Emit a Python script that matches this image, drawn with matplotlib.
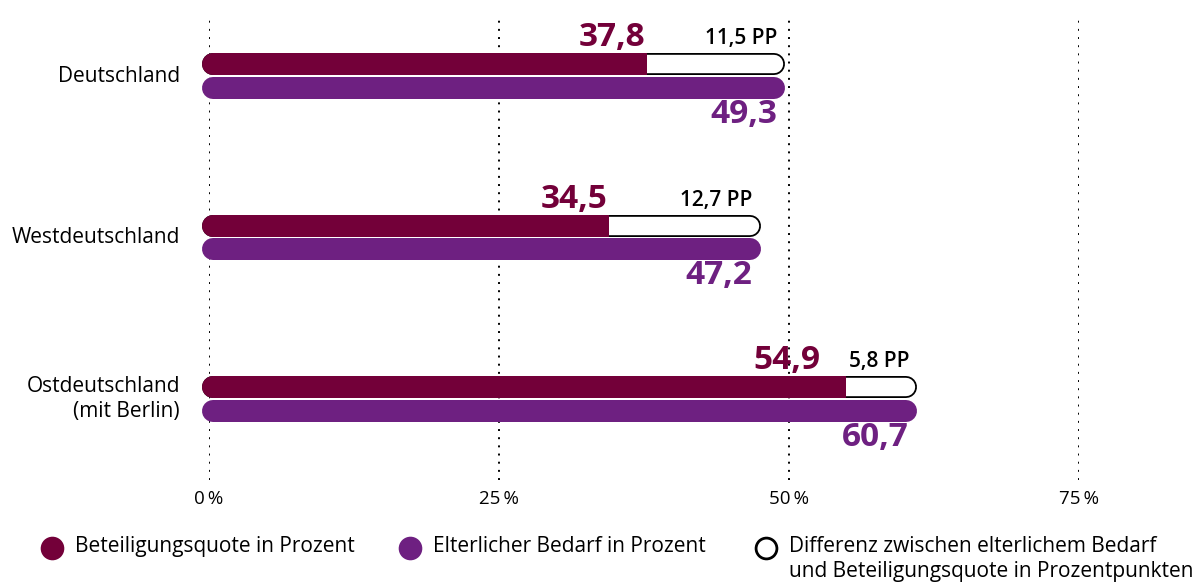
import matplotlib
matplotlib.use("Agg")
import matplotlib.pyplot as plt
from matplotlib.lines import Line2D

plt.rcParams['font.family'] = ['Open Sans', 'Noto Sans', 'DejaVu Sans']

categories = ["Deutschland", "Westdeutschland", "Ostdeutschland\n(mit Berlin)"]
beteiligung = [37.8, 34.5, 54.9]
bedarf = [49.3, 47.2, 60.7]
differenz = [11.5, 12.7, 5.8]
bet_labels = ["37,8", "34,5", "54,9"]
bed_labels = ["49,3", "47,2", "60,7"]
diff_labels = ["11,5 PP", "12,7 PP", "5,8 PP"]
xticks = [0, 25, 50, 75]
xtick_labels = ["0\u2009%", "25\u2009%", "50\u2009%", "75\u2009%"]
legend_labels = ["Beteiligungsquote in Prozent", "Elterlicher Bedarf in Prozent",
                 "Differenz zwischen elterlichem Bedarf\nund Beteiligungsquote in Prozentpunkten"]

RED = "#730039"
PURPLE = "#6E2081"

W, H = 1193, 588
fig = plt.figure(figsize=(W / 100, H / 100), dpi=100)
ax_left, ax_right, ax_top, ax_bot = 209, 1079, 15, 480
ax = fig.add_axes([ax_left / W, 1 - ax_bot / H, (ax_right - ax_left) / W, (ax_bot - ax_top) / H])
ax.set_xlim(0, 75)
spacing = 161.5
ax.set_ylim((ax_bot - 76) / spacing, (ax_top - 76) / spacing)

for s in ax.spines.values():
    s.set_visible(False)
ax.set_yticks([])
ax.set_xticks(xticks)
ax.set_xticklabels(xtick_labels, fontsize=13.5)
ax.tick_params(axis='x', length=0, pad=7)

for xv in xticks:
    ax.axvline(xv, color="black", linestyle=(0, (1, 3.2)), linewidth=1.4, zorder=0)

px = (ax_right - ax_left) / 75.0  # pixels per data unit
bar_h_px = 22
lw = bar_h_px * 72 / 100
start = (11 - 7) / px  # left cap start
off = (bar_h_px / 2 + 0.75) / spacing

bet_label_shift = [-2, -2, -25]

def bar(xs, y, color, width, cap, z):
    ax.plot(xs, [y, y], color=color, lw=width, solid_capstyle=cap, zorder=z, clip_on=False)

for i in range(len(categories)):
    yt = i - off
    yb = i + off
    end_bed = bedarf[i] - 7 / px
    bar([start, end_bed], yt, "black", lw, "round", 2)
    bar([start, end_bed], yt, "white", lw - 2.6, "round", 3)
    bar([start, start + 0.5], yt, RED, lw, "round", 4)
    bar([start, beteiligung[i]], yt, RED, lw, "butt", 4)
    bar([start, end_bed], yb, PURPLE, lw, "round", 4)

    ax.annotate(bet_labels[i], (beteiligung[i], yt), xytext=(bet_label_shift[i], 10),
                textcoords="offset pixels", ha="right", va="bottom",
                fontsize=24, fontweight="bold", color=RED)
    ax.annotate(diff_labels[i], (bedarf[i], yt), xytext=(-4, 15),
                textcoords="offset pixels", ha="right", va="bottom",
                fontsize=15, fontweight="semibold", color="black")
    ax.annotate(bed_labels[i], (bedarf[i], yb), xytext=(-4, -10),
                textcoords="offset pixels", ha="right", va="top",
                fontsize=24, fontweight="bold", color=PURPLE)
    ax.annotate(categories[i], (0, i), xytext=(-29, 0), textcoords="offset pixels",
                ha="right", va="center", fontsize=15, color="black",
                linespacing=1.25, annotation_clip=False)

# legend
leg_y = 1 - 548 / H
marker_x = [52, 410, 766]
text_x = [75, 433, 789]
face = [RED, PURPLE, "white"]
edge = [RED, PURPLE, "black"]
for mx, tx, fc, ec, lab in zip(marker_x, text_x, face, edge, legend_labels):
    fig.add_artist(Line2D([mx / W], [leg_y], marker="o", markersize=15,
                          markerfacecolor=fc, markeredgecolor=ec, markeredgewidth=2,
                          linestyle="none", transform=fig.transFigure))
    fig.text(tx / W, 1 - 536 / H, lab, ha="left", va="top", fontsize=15,
             linespacing=1.25, color="black")

fig.savefig("out.png", dpi=100)
